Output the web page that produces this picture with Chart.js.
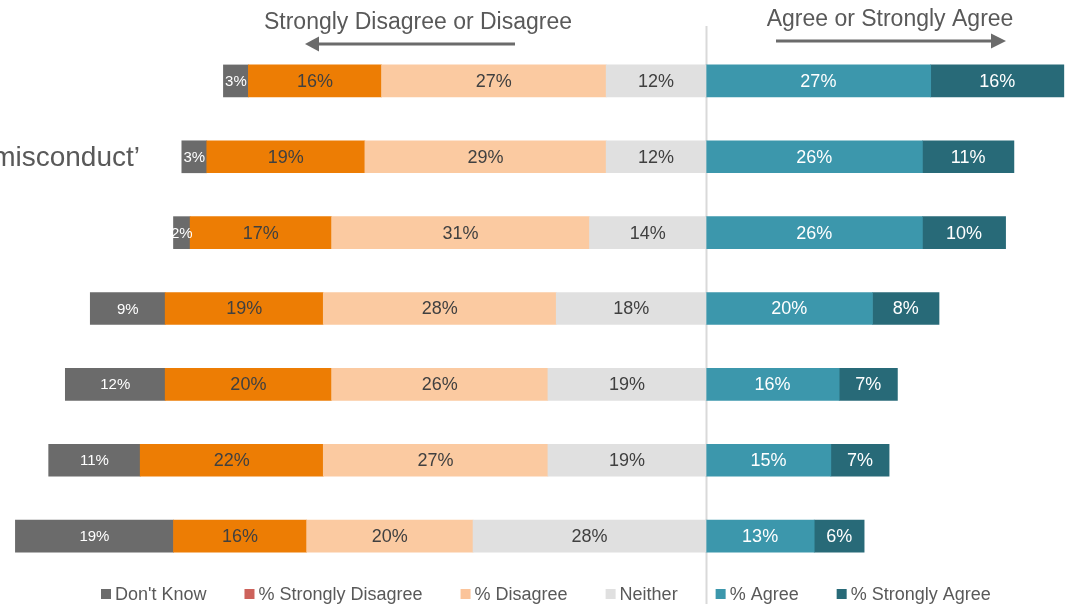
<!DOCTYPE html>
<html>
<head>
<meta charset="utf-8">
<script src="https://cdn.jsdelivr.net/npm/chart.js@4.4.1/dist/chart.umd.min.js"></script>
<style>
  html, body { margin: 0; padding: 0; background: #fff; }
  #wrap { width: 1068px; height: 604px; overflow: hidden; }
</style>
</head>
<body>
<div id="wrap"><canvas id="likertChart" width="1068" height="604"></canvas></div>
<script>
// ---------------- data (percent of respondents per statement) ----------------
const rowLabels        = ["", "misconduct’", "", "", "", "", ""];
const dontKnow         = [3, 3, 2, 9, 12, 11, 19];
const stronglyDisagree = [16, 19, 17, 19, 20, 22, 16];
const disagree         = [27, 29, 31, 28, 26, 27, 20];
const neither          = [12, 12, 14, 18, 19, 19, 28];
const agree            = [27, 26, 26, 20, 16, 15, 13];
const stronglyAgree    = [16, 11, 10, 8, 7, 7, 6];

const FONT = "'Liberation Sans', Arial, Helvetica, sans-serif";
const neg = arr => arr.map(v => -v);

// ---------------- plugins ----------------
// thin zero line behind the bars
const zeroLine = {
  id: "zeroLine",
  beforeDatasetsDraw(chart) {
    const ctx = chart.ctx;
    const x = Math.round(chart.scales.x.getPixelForValue(0)) + 0.5;
    ctx.save();
    ctx.strokeStyle = "#d9d9d9";
    ctx.lineWidth = 2;
    ctx.beginPath();
    ctx.moveTo(x, 26);
    ctx.lineTo(x, chart.height);
    ctx.stroke();
    ctx.restore();
  }
};

// value labels in the middle of each segment
const segmentLabels = {
  id: "segmentLabels",
  afterDatasetsDraw(chart) {
    const ctx = chart.ctx;
    ctx.save();
    ctx.textAlign = "center";
    ctx.textBaseline = "middle";
    chart.data.datasets.forEach((ds, i) => {
      const meta = chart.getDatasetMeta(i);
      ctx.fillStyle = ds.labelColor;
      ctx.font = ds.labelSize + "px " + FONT;
      meta.data.forEach((bar, j) => {
        const p = bar.getProps(["x", "base", "y"], true);
        const v = Math.abs(ds.data[j]);
        ctx.fillText(v + "%", (p.x + p.base) / 2, p.y + 1);
      });
    });
    ctx.restore();
  }
};

// headings with arrows, row text, and the legend row
const decorations = {
  id: "decorations",
  afterDraw(chart) {
    const ctx = chart.ctx;
    ctx.save();
    ctx.fillStyle = "#595959";
    ctx.strokeStyle = "#6b6b6b";
    ctx.textBaseline = "middle";
    ctx.textAlign = "center";
    ctx.font = "23px " + FONT;
    ctx.fillText("Strongly Disagree or Disagree", 418, 23);
    ctx.fillText("Agree or Strongly Agree", 890, 20);

    ctx.fillStyle = "#6b6b6b";
    ctx.lineWidth = 3;
    // left arrow
    ctx.beginPath(); ctx.moveTo(515, 44); ctx.lineTo(316, 44); ctx.stroke();
    ctx.beginPath(); ctx.moveTo(305, 44); ctx.lineTo(319, 36.5); ctx.lineTo(319, 51.5); ctx.closePath(); ctx.fill();
    // right arrow
    ctx.beginPath(); ctx.moveTo(776, 41); ctx.lineTo(994, 41); ctx.stroke();
    ctx.beginPath(); ctx.moveTo(1006, 41); ctx.lineTo(991, 33.5); ctx.lineTo(991, 48.5); ctx.closePath(); ctx.fill();

    // row text (only the tail end fits inside the canvas)
    const y = chart.scales.y;
    ctx.fillStyle = "#595959";
    ctx.textAlign = "right";
    ctx.font = "28px " + FONT;
    rowLabels.forEach((lbl, i) => {
      if (lbl) ctx.fillText(lbl, 140, y.getPixelForValue(i) + 1);
    });

    // legend
    const items = chart.data.datasets
      .map(ds => ({ text: ds.label, color: ds.legendColor, rank: ds.legendRank }))
      .sort((a, b) => a.rank - b.rank);
    ctx.font = "18px " + FONT;
    ctx.textAlign = "left";
    let x = 101;
    items.forEach(it => {
      ctx.fillStyle = it.color;
      ctx.fillRect(x, 589, 10, 10);
      ctx.fillStyle = "#595959";
      ctx.fillText(it.text, x + 14, 595);
      x += 14 + ctx.measureText(it.text).width + 38;
    });
    ctx.restore();
  }
};

// ---------------- chart ----------------
const ctx = document.getElementById("likertChart");
new Chart(ctx, {
  type: "bar",
  data: {
    labels: rowLabels,
    datasets: [
      { label: "Neither", data: neg(neither), backgroundColor: "#e0e0e0",
        legendColor: "#e0e0e0", legendRank: 3, labelColor: "#404040", labelSize: 18 },
      { label: "% Disagree", data: neg(disagree), backgroundColor: "#fbcaa1",
        legendColor: "#fbc49a", legendRank: 2, labelColor: "#404040", labelSize: 18 },
      { label: "% Strongly Disagree", data: neg(stronglyDisagree), backgroundColor: "#ed7d04",
        legendColor: "#cd625b", legendRank: 1, labelColor: "#404040", labelSize: 18 },
      { label: "Don't Know", data: neg(dontKnow), backgroundColor: "#6b6b6b",
        legendColor: "#6b6b6b", legendRank: 0, labelColor: "#ffffff", labelSize: 15 },
      { label: "% Agree", data: agree, backgroundColor: "#3c97ac",
        legendColor: "#3c97ac", legendRank: 4, labelColor: "#ffffff", labelSize: 18 },
      { label: "% Strongly Agree", data: stronglyAgree, backgroundColor: "#286a78",
        legendColor: "#286a78", legendRank: 5, labelColor: "#ffffff", labelSize: 18 }
    ]
  },
  options: {
    indexAxis: "y",
    responsive: false,
    animation: false,
    layout: { padding: { top: 43, bottom: 30, left: 0, right: 0 } },
    datasets: { bar: { barThickness: 32, borderWidth: 0 } },
    scales: {
      x: { stacked: true, display: false, min: -84.85, max: 43.5 },
      y: { stacked: true, display: false }
    },
    plugins: {
      legend: { display: false },
      tooltip: { enabled: false }
    }
  },
  plugins: [zeroLine, segmentLabels, decorations]
});
</script>
</body>
</html>
